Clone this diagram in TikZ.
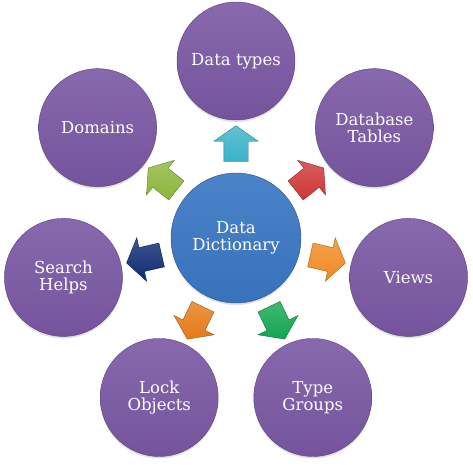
\documentclass[tikz,border=0pt]{standalone}
\usepackage{fontspec}
\setmainfont{DejaVu Serif}
\usepackage{xcolor}
\usetikzlibrary{shapes.arrows,shadows}

\definecolor{topicpurple}{HTML}{7A58A4}
\definecolor{hubblue}{HTML}{3B78C4}
\definecolor{arrcyan}{HTML}{3AB2C8}
\definecolor{arrred}{HTML}{CE3636}
\definecolor{arrorange}{HTML}{F08A22}
\definecolor{arrgreen}{HTML}{12A650}
\definecolor{arrlock}{HTML}{E67A18}
\definecolor{arrnavy}{HTML}{0E2A72}
\definecolor{arrlime}{HTML}{8CB63C}

\tikzset{
  topic/.style={circle, minimum size=118, inner sep=0, align=center, text=white,
    font=\fontsize{16.5}{17.5}\selectfont, top color=topicpurple!90!white,
    bottom color=topicpurple!95!black, draw=topicpurple!75!black, thin,
    drop shadow={opacity=0.25, shadow xshift=0, shadow yshift=-2}},
  hub/.style={topic, minimum size=130, top color=hubblue!92!white,
    bottom color=hubblue!95!black, draw=hubblue!70!black},
  blockarrow/.style={single arrow, inner sep=12, minimum height=36,
    single arrow head extend=10, single arrow tip angle=110,
    draw=#1!70!black, top color=#1!80!white, bottom color=#1},
}

\begin{document}
\begin{tikzpicture}[x=1pt,y=1pt]
  \useasboundingbox (-236,-226) rectangle (237,238);

  \node[hub] (dd) at (0,0) {Data\\Dictionary};

  \node[topic] (types) at (90:177) {Data types};
  \node[topic] (tables) at (38.57:177) {Database\\Tables};
  \node[topic] (views) at (-12.86:177) {Views};
  \node[topic] (groups) at (-64.29:177) {Type\\Groups};
  \node[topic] (locks) at (-115.71:177) {Lock\\Objects};
  \node[topic] (helps) at (192.86:177) {Search\\Helps};
  \node[topic] (domains) at (141.43:177) {Domains};

  % arrows from the hub outwards
  \node[blockarrow=arrcyan, rotate=90] (a1) at (90:90) {};
  \node[blockarrow=arrred, rotate=38.57] (a2) at (38.57:90) {};
  \node[blockarrow=arrorange, rotate=-12.86] (a3) at (-12.86:90) {};
  \node[blockarrow=arrgreen, rotate=-64.29] (a4) at (-64.29:90) {};
  \node[blockarrow=arrlock, rotate=-115.71] (a5) at (-115.71:90) {};
  \node[blockarrow=arrnavy, rotate=192.86] (a6) at (192.86:90) {};
  \node[blockarrow=arrlime, rotate=141.43] (a7) at (141.43:90) {};
\end{tikzpicture}
\end{document}
